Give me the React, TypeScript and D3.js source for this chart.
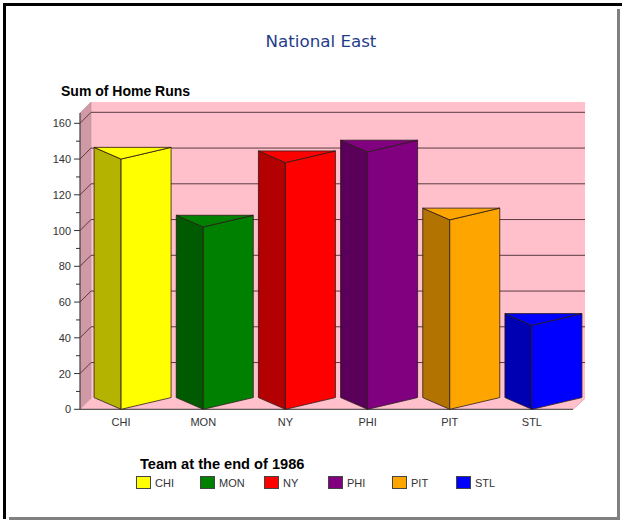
import React from "react";
import * as d3 from "d3";

const teams = ["CHI", "MON", "NY", "PHI", "PIT", "STL"];
const homeRuns = [140, 102, 138, 144, 106, 47];
const faceColors = ["#ffff00", "#008000", "#ff0000", "#800080", "#ffa500", "#0000ff"];
const yTicks = [0, 20, 40, 60, 80, 100, 120, 140, 160];
const yMinorTicks = [10, 30, 50, 70, 90, 110, 130, 150];
const titleText = "National East";
const yTitle = "Sum of Home Runs";
const legendTitle = "Team at the end of 1986";

const W = 622;
const H = 523;
const FONT = "'Liberation Sans', Arial, sans-serif";

export default function App() {
  const x0 = 80;
  const x1 = 573;
  const depthX = 11;
  const depthY = 11;
  const y = d3.scaleLinear().domain([0, 160]).range([409.3, 123.3]);
  const yTopVal = 165.8;
  const x = d3.scaleBand().domain(teams).range([x0, x1]).paddingInner(0).paddingOuter(0);
  const dark = (c: string) => {
    const col = d3.rgb(c);
    return d3.rgb(col.r * 0.7, col.g * 0.7, col.b * 0.7).formatHex();
  };
  const pts = (p: number[][]) => p.map((q) => q.join(",")).join(" ");

  const yTop = y(yTopVal);
  const y0 = y(0);
  const gridColor = "#5a3a42";
  const barDY = 11.7;

  return (
    <svg width={W} height={H} style={{ position: "absolute", left: 0, top: 0 }}>
      <rect x={0} y={0} width={W} height={H} fill="#ffffff" />
      {/* frame */}
      <rect x={617} y={9} width={3} height={511} fill="#808080" />
      <rect x={9} y={517} width={611} height={3} fill="#808080" />
      <rect x={3} y={3} width={619} height={3} fill="#000000" />
      <rect x={3} y={3} width={3} height={516} fill="#000000" />

      <text x={321} y={47} textAnchor="middle" fontFamily="'DejaVu Sans', Verdana, sans-serif" fontSize={16.7} fill="#1f3c8a">
        {titleText}
      </text>
      <text x={61} y={96} fontFamily={FONT} fontSize={14} fontWeight="bold" fill="#000">
        {yTitle}
      </text>

      {/* back wall */}
      <polygon
        points={pts([
          [x0 + depthX, yTop - depthY],
          [x1 + depthX + 1, yTop - depthY],
          [x1 + depthX + 1, y0 - depthY],
          [x0 + depthX, y0 - depthY],
        ])}
        fill="#ffc0cb"
      />
      {/* floor */}
      <polygon
        points={pts([
          [x0, y0],
          [x0 + depthX, y0 - depthY],
          [x1 + depthX + 1, y0 - depthY],
          [x1, y0],
        ])}
        fill="#ffc0cb"
      />
      {/* side wall */}
      <polygon
        points={pts([
          [x0, yTop],
          [x0 + depthX, yTop - depthY],
          [x0 + depthX, y0 - depthY],
          [x0, y0],
        ])}
        fill="#cf9aa6"
        stroke="#b08890"
        strokeWidth={0.5}
      />
      {/* gridlines */}
      {yTicks
        .filter((t) => t > 0)
        .map((t) => (
          <g key={"g" + t}>
            <line x1={x0 + depthX} x2={x1 + depthX + 1} y1={y(t) - depthY} y2={y(t) - depthY} stroke={gridColor} strokeWidth={1} />
            <line x1={x0} x2={x0 + depthX} y1={y(t)} y2={y(t) - depthY} stroke={gridColor} strokeWidth={1} />
          </g>
        ))}
      {/* axis */}
      <line x1={x0} x2={x0} y1={yTop} y2={y0} stroke="#333" strokeWidth={1} />
      <line x1={x0} x2={x1} y1={y0} y2={y0} stroke="#333" strokeWidth={1} />
      <line x1={x1} x2={x1 + depthX + 1} y1={y0} y2={y0 - depthY} stroke="#e8aab6" strokeWidth={1} />
      {yTicks.map((t) => (
        <g key={"t" + t}>
          <line x1={x0 - 6} x2={x0} y1={y(t)} y2={y(t)} stroke="#333" />
          <text x={x0 - 9} y={y(t) + 4} textAnchor="end" fontFamily={FONT} fontSize={11} fill="#333">
            {t}
          </text>
        </g>
      ))}
      {yMinorTicks.map((t) => (
        <line key={"m" + t} x1={x0 - 4} x2={x0} y1={y(t)} y2={y(t)} stroke="#333" />
      ))}

      {/* bars */}
      {teams.map((tm, i) => {
        const c = (x(tm) as number) + x.bandwidth() / 2;
        const xl = c - 27;
        const xr = c + 50;
        const v = homeRuns[i];
        const fy = y(v);
        const by = fy - barDY;
        const fb = y0;
        const bb = y0 - barDY;
        const col = faceColors[i];
        const dk = dark(col);
        const st = "#2a1a1a";
        return (
          <g key={tm}>
            <polygon points={pts([[xl, by], [c, fy], [c, fb], [xl, bb]])} fill={dk} stroke={st} strokeWidth={0.8} />
            <polygon points={pts([[c, fy], [xr, by], [xr, bb], [c, fb]])} fill={col} stroke={st} strokeWidth={0.8} />
            <polygon points={pts([[xl, by], [c, fy], [xr, by]])} fill={col} stroke={st} strokeWidth={0.8} />
            <text x={c} y={y0 + 17} textAnchor="middle" fontFamily={FONT} fontSize={11} fill="#333">
              {tm}
            </text>
          </g>
        );
      })}

      {/* legend */}
      <text x={140} y={469} fontFamily={FONT} fontSize={14.6} fontWeight="bold" fill="#000">
        {legendTitle}
      </text>
      {teams.map((tm, i) => {
        const lx = 136 + i * 64;
        return (
          <g key={"l" + tm}>
            <rect x={lx + 0.5} y={476.5} width={14} height={12} fill={faceColors[i]} stroke="#444" strokeWidth={1} />
            <text x={lx + 19} y={487} fontFamily={FONT} fontSize={11} fill="#333">
              {tm}
            </text>
          </g>
        );
      })}
    </svg>
  );
}
